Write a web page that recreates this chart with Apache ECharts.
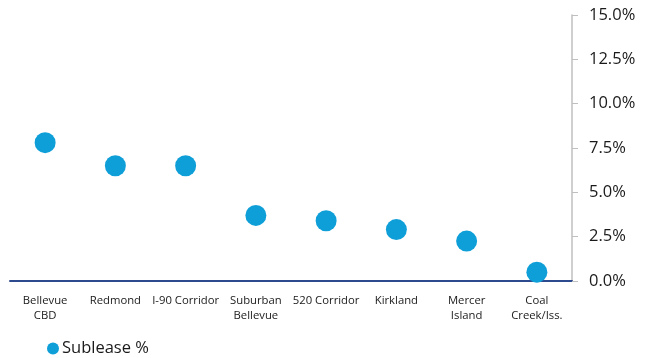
<!DOCTYPE html>
<html>
<head>
<meta charset="utf-8">
<script src="https://cdn.jsdelivr.net/npm/echarts@6/dist/echarts.min.js"></script>
<style>
  html, body { margin: 0; padding: 0; background: #fff; }
  #chart { width: 654px; height: 358px; }
</style>
</head>
<body>
<div id="chart"></div>
<script>
  // submarkets along the bottom
  const markets = ['Bellevue\nCBD', 'Redmond', 'I-90 Corridor', 'Suburban\nBellevue',
    '520 Corridor', 'Kirkland', 'Mercer\nIsland', 'Coal\nCreek/Iss.']
  // sublease share, percent
  const sublease = [7.8, 6.5, 6.5, 3.7, 3.4, 2.9, 2.25, 0.5]
  const yMin = 0
  const yMax = 15
  const yStep = 2.5

  const chart = echarts.init(document.getElementById('chart'))
  chart.setOption({
    animation: false,
    textStyle: { fontFamily: 'Open Sans' },
    legend: {
      data: ['Sublease %'],
      left: 42,
      top: 335,
      icon: 'circle',
      itemWidth: 12,
      itemHeight: 12,
      textStyle: { fontSize: 16.5, color: '#1a1a1a', padding: [0, 0, 0, -2] }
    },
    grid: {
      left: 10,
      right: 82,
      top: 15,
      bottom: 77
    },
    xAxis: {
      type: 'category',
      data: markets,
      axisLine: { lineStyle: { color: '#2E4A8E', width: 2 } },
      axisTick: { show: false },
      axisLabel: {
        interval: 0,
        fontSize: 11.3,
        lineHeight: 15,
        color: '#1a1a1a',
        margin: 12
      }
    },
    yAxis: {
      type: 'value',
      position: 'right',
      min: yMin,
      max: yMax,
      interval: yStep,
      axisLine: { show: true, lineStyle: { color: '#bfbfbf', width: 1.5 } },
      axisTick: { show: true, length: 6, lineStyle: { color: '#bfbfbf' } },
      splitLine: { show: false },
      axisLabel: {
        fontSize: 16.5,
        color: '#1a1a1a',
        margin: 17,
        formatter: v => v.toFixed(1) + '%'
      }
    },
    series: [
      {
        name: 'Sublease %',
        type: 'scatter',
        symbol: 'circle',
        symbolSize: 21,
        itemStyle: { color: '#0E9FD8', opacity: 1 },
        data: sublease
      }
    ]
  })
</script>
</body>
</html>
